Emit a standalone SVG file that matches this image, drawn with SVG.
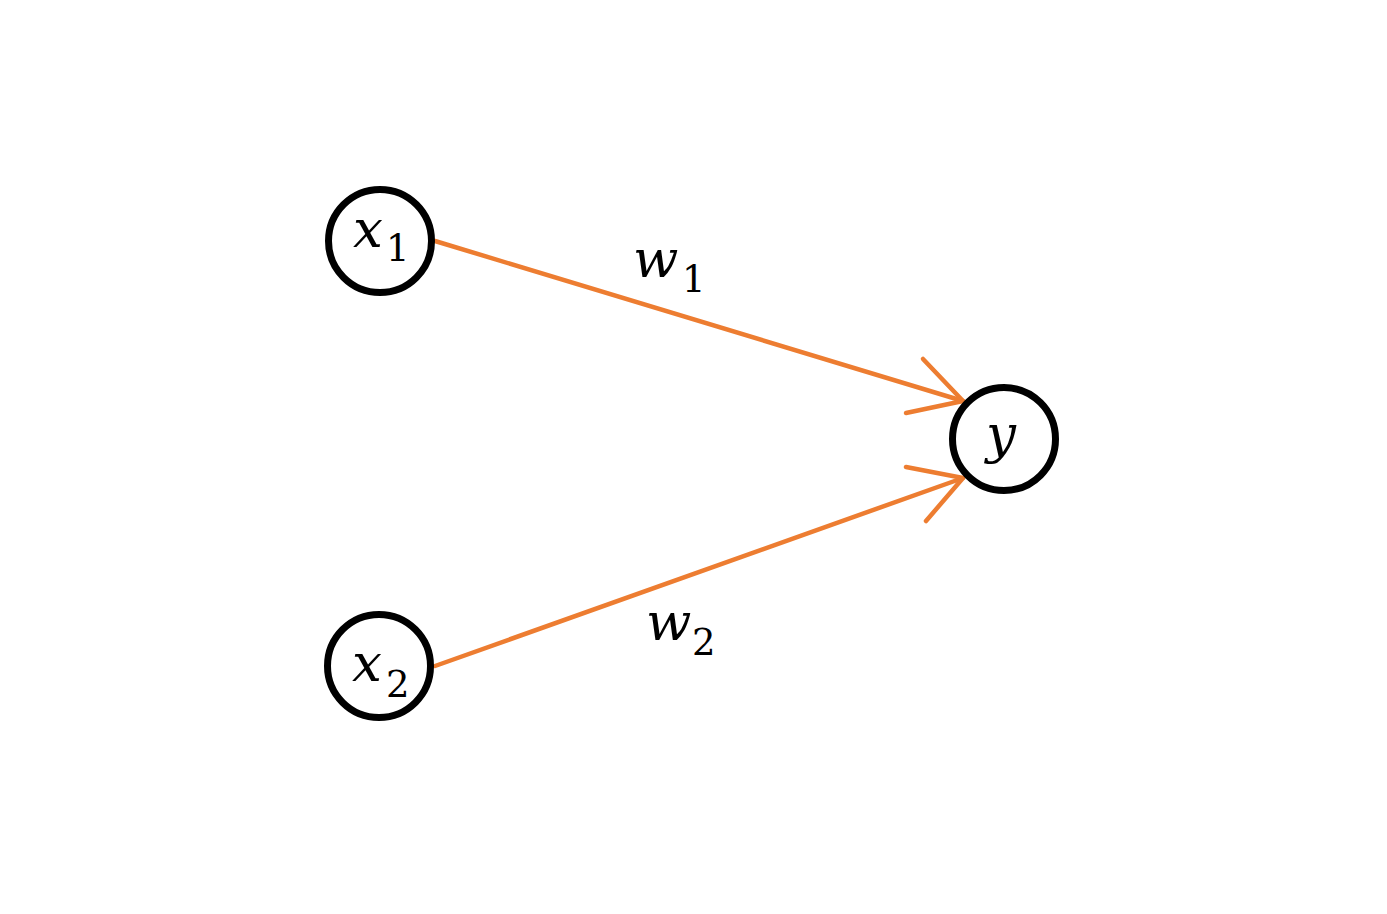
<svg xmlns="http://www.w3.org/2000/svg" width="1387" height="914" viewBox="0 0 1387 914">
  <style>
    .node { fill: #ffffff; stroke: #000000; stroke-width: 7; }
    .edge { fill: none; stroke: #ED7D31; stroke-width: 4.5; stroke-linecap: round; stroke-linejoin: round; }
    .var { font-family: "DejaVu Serif", "Liberation Serif", serif; font-style: italic; font-size: 53px; fill: #000; }
    .sub { font-family: "DejaVu Serif", "Liberation Serif", serif; font-size: 37px; fill: #000; }
  </style>
  <rect width="1387" height="914" fill="#ffffff"/>

  <!-- weighted connections into y -->
  <g id="connectors">
    <g id="edge-x1-y">
      <line class="edge" x1="435" y1="241" x2="963" y2="401"/>
      <polyline class="edge" points="923,359 963,401 906,413"/>
    </g>
    <g id="edge-x2-y">
      <line class="edge" x1="435" y1="666" x2="963" y2="478"/>
      <polyline class="edge" points="906,467 963,478 926,521"/>
    </g>
    <g id="label-w1">
      <text class="var" x="633" y="277">w</text>
      <text class="sub" x="682" y="292">1</text>
    </g>
    <g id="label-w2">
      <text class="var" x="646" y="640">w</text>
      <text class="sub" x="692" y="655">2</text>
    </g>
  </g>

  <g id="node-x1">
    <circle class="node" cx="380" cy="241" r="51.5"/>
    <text class="var" x="353" y="247">x</text>
    <text class="sub" x="386" y="261">1</text>
  </g>

  <g id="node-x2">
    <circle class="node" cx="379" cy="666" r="51.5"/>
    <text class="var" x="352" y="681">x</text>
    <text class="sub" x="386" y="697">2</text>
  </g>

  <g id="node-y">
    <circle class="node" cx="1004" cy="439" r="51.5"/>
    <text class="var" x="986" y="452">y</text>
  </g>
</svg>
